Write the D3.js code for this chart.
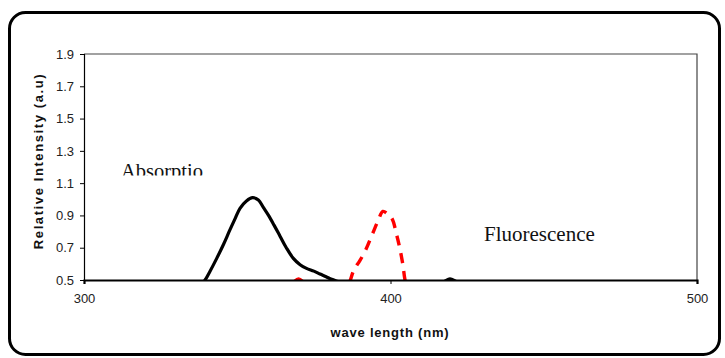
<!DOCTYPE html>
<html><head><meta charset="utf-8">
<script src="https://cdn.jsdelivr.net/npm/d3@7"></script>
<style>body{margin:0;background:#fff}svg{display:block}</style>
</head><body>
<svg id="c" width="725" height="358"></svg>
<script>
const xTicks = [300, 400, 500];
const yTicks = [0.5, 0.7, 0.9, 1.1, 1.3, 1.5, 1.7, 1.9];
const absWave = [336, 339.5, 341, 343.3, 345.5, 347.6, 349.3, 350.9, 353, 355, 356.9, 358.5, 360.2, 362, 364, 366, 368.3, 370.5, 372.6, 375, 377, 379, 380.8, 383, 386, 400, 414, 417.5, 419.4, 421.5, 425, 440];
const absVal  = [0.42, 0.5, 0.55, 0.634, 0.72, 0.81, 0.88, 0.944, 0.99, 1.01, 0.996, 0.95, 0.90, 0.84, 0.77, 0.70, 0.634, 0.595, 0.572, 0.555, 0.537, 0.52, 0.504, 0.49, 0.47, 0.44, 0.46, 0.49, 0.507, 0.49, 0.46, 0.43];
const fluWave = [364, 368, 370, 372, 376, 380, 384, 386.5, 388, 390, 392, 394, 396, 397.5, 399, 400.5, 402, 403, 404, 405, 407];
const fluVal  = [0.42, 0.48, 0.507, 0.48, 0.42, 0.38, 0.40, 0.48, 0.56, 0.62, 0.69, 0.78, 0.87, 0.925, 0.91, 0.88, 0.78, 0.70, 0.60, 0.48, 0.40];
const labels = {abs: "Absorptio", flu: "Fluorescence", x: "wave length (nm)", y: "Relative Intensity (a.u)"};

const svg = d3.select("#c");
const L = 84, R = 697, T = 54, B = 280;
const x = d3.scaleLinear().domain([300, 500]).range([L, R]);
const y = d3.scaleLinear().domain([0.5, 1.9]).range([B, T]);

// outer frame
svg.append("rect").attr("x", 9.5).attr("y", 12.5).attr("width", 710).attr("height", 342)
  .attr("rx", 16).attr("fill", "none").attr("stroke", "#000").attr("stroke-width", 3);

// plot border (top/right)
svg.append("path").attr("d", `M${L},${T}H${R}V${B}`).attr("fill", "none")
  .attr("stroke", "#444").attr("stroke-width", 1.2);

const defs = svg.append("defs");
defs.append("clipPath").attr("id", "plot").append("rect")
  .attr("x", L).attr("y", T).attr("width", R - L).attr("height", B - T);
defs.append("clipPath").attr("id", "txt").append("rect")
  .attr("x", 100).attr("y", 150).attr("width", 120).attr("height", 25.5);

const line = d3.line().x(d => x(d[0])).y(d => y(d[1])).curve(d3.curveCatmullRom);
const g = svg.append("g").attr("clip-path", "url(#plot)");
g.append("path").datum(fluWave.map((w, i) => [w, fluVal[i]]))
  .attr("d", line).attr("fill", "none").attr("stroke", "#ff0000")
  .attr("stroke-width", 3.4).attr("stroke-dasharray", "10,8");
g.append("path").datum(absWave.map((w, i) => [w, absVal[i]]))
  .attr("d", line).attr("fill", "none").attr("stroke", "#000")
  .attr("stroke-width", 3.2).attr("stroke-linejoin", "round");

// axes
const font = "'Liberation Sans', Arial, sans-serif";
const ya = svg.append("g").attr("transform", `translate(${L},0)`)
  .call(d3.axisLeft(y).tickValues(yTicks).tickSize(4).tickPadding(6).tickFormat(d3.format(".1f")));
ya.select(".domain").attr("stroke", "#000").attr("stroke-width", 1.2);
ya.selectAll("text").attr("font-family", font).attr("font-size", 13).attr("fill", "#222");
ya.selectAll("line").attr("stroke", "#000");

const xa = svg.append("g").attr("transform", `translate(0,${B})`)
  .call(d3.axisBottom(x).tickValues(xTicks).tickSize(4).tickPadding(10).tickFormat(d3.format("d")));
xa.select(".domain").attr("stroke", "#000").attr("stroke-width", 2.2);
xa.selectAll("text").attr("font-family", font).attr("font-size", 13).attr("fill", "#222");
xa.selectAll("line").attr("stroke", "#000");

svg.append("text").attr("x", 390).attr("y", 337).attr("text-anchor", "middle")
  .attr("font-family", font).attr("font-weight", "bold").attr("font-size", 13)
  .attr("letter-spacing", 0.8).attr("fill", "#111").text(labels.x);
svg.append("text").attr("transform", "translate(43,161) rotate(-90)").attr("text-anchor", "middle")
  .attr("font-family", font).attr("font-weight", "bold").attr("font-size", 13)
  .attr("letter-spacing", 1.6).attr("fill", "#111").text(labels.y);

const serif = "'Liberation Serif', 'Times New Roman', serif";
svg.append("text").attr("clip-path", "url(#txt)").attr("x", 121).attr("y", 177.5)
  .attr("font-family", serif).attr("font-size", 20.5).attr("fill", "#111").text(labels.abs);
svg.append("text").attr("x", 484).attr("y", 241)
  .attr("font-family", serif).attr("font-size", 21).attr("fill", "#111").text(labels.flu);
</script>
</body></html>
